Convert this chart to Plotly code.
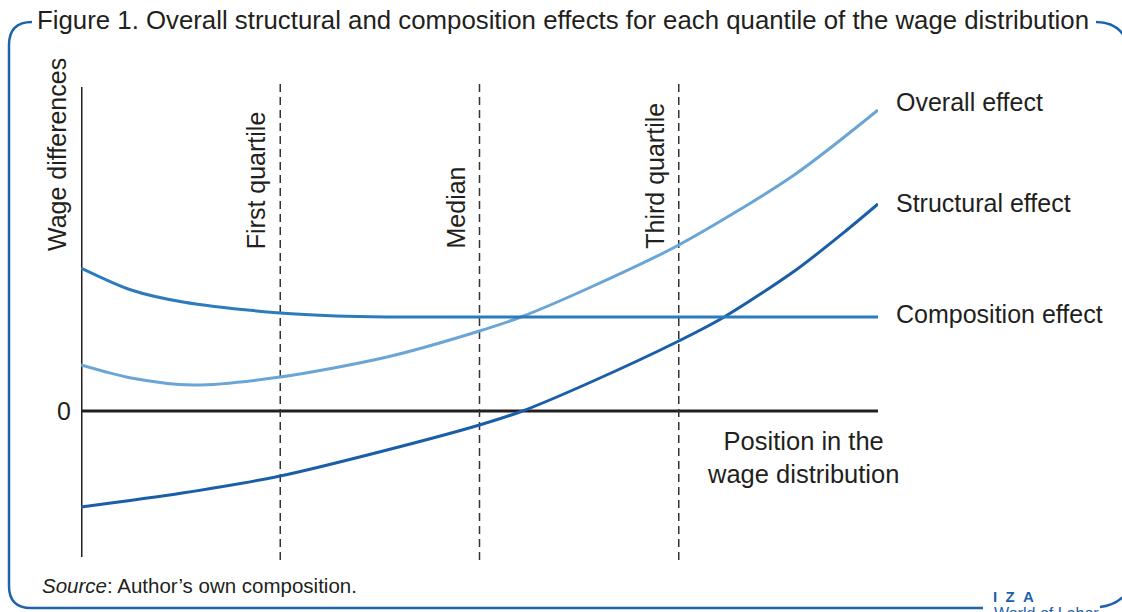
import plotly.graph_objects as go

W, H = 1122, 612

# Data (position in the wage distribution 0..1, wage difference in arbitrary units)
overall_x = [0.0, 0.063, 0.14, 0.25, 0.384, 0.5, 0.552, 0.64, 0.75, 0.893, 1.0]
overall_y = [0.46, 0.33, 0.26, 0.34, 0.54, 0.80, 0.94, 1.24, 1.66, 2.35, 3.01]

structural_x = [0.0, 0.127, 0.25, 0.384, 0.5, 0.554, 0.64, 0.75, 0.807, 0.897, 0.961, 1.0]
structural_y = [-0.96, -0.82, -0.65, -0.39, -0.14, 0.0, 0.29, 0.70, 0.94, 1.41, 1.81, 2.07]

composition_x = [0.0, 0.063, 0.128, 0.25, 0.32, 0.384, 0.5, 0.75, 1.0]
composition_y = [1.43, 1.21, 1.09, 0.98, 0.95, 0.94, 0.94, 0.94, 0.94]

quartile_x = [0.25, 0.5, 0.75]
quartile_labels = ["First quartile", "Median", "Third quartile"]

series_names = ["Overall effect", "Structural effect", "Composition effect"]
series_colors = ["#6aa5d5", "#1a5ea8", "#2b7bbd"]
label_px_y = [102, 203, 314]

TXT = "#231f20"
FONT = "Liberation Sans"
FRAME = "#1c63ad"


def px(x):
    return x / W


def py(y):
    return 1 - y / H


fig = go.Figure()

# axis lines and quartile guides
fig.add_trace(go.Scatter(x=[0, 0], y=[-1.46, 3.24], mode="lines",
                         line=dict(color=TXT, width=3), hoverinfo="skip", showlegend=False))
fig.add_trace(go.Scatter(x=[0, 1.0], y=[0, 0], mode="lines",
                         line=dict(color=TXT, width=3), hoverinfo="skip", showlegend=False))
for qx in quartile_x:
    fig.add_trace(go.Scatter(x=[qx, qx], y=[-1.49, 3.29], mode="lines",
                             line=dict(color="#333333", width=1.5, dash="8px,5px"),
                             hoverinfo="skip", showlegend=False))

for name, xs, ys, col in zip(series_names,
                             [overall_x, structural_x, composition_x],
                             [overall_y, structural_y, composition_y],
                             series_colors):
    fig.add_trace(go.Scatter(x=xs, y=ys, mode="lines", name=name,
                             line=dict(color=col, width=3, shape="spline", smoothing=0.8),
                             showlegend=False))

annotations = []
# series labels at right
for name, ly in zip(series_names, label_px_y):
    annotations.append(dict(x=px(894), xref="paper", y=py(ly), yref="paper", text=name,
                            showarrow=False, xanchor="left", yanchor="middle",
                            font=dict(family=FONT, size=25, color=TXT)))
# quartile labels
for qx, lab in zip(quartile_x, quartile_labels):
    annotations.append(dict(x=qx, xref="x", y=py(251), yref="paper", text=lab, textangle=-90,
                            showarrow=False, xanchor="right", yanchor="bottom", xshift=-8,
                            font=dict(family=FONT, size=25, color=TXT)))

annotations += [
    dict(x=px(57), y=py(155), xref="paper", yref="paper", text="Wage differences", textangle=-90,
         showarrow=False, xanchor="center", yanchor="middle", font=dict(family=FONT, size=25, color=TXT)),
    dict(x=px(73), y=0, xref="paper", yref="y", text="0", showarrow=False, xanchor="right",
         yanchor="middle", font=dict(family=FONT, size=25, color=TXT)),
    dict(x=px(803), y=py(457), xref="paper", yref="paper", text="Position in the<br>wage distribution",
         showarrow=False, xanchor="center", yanchor="middle", align="center",
         font=dict(family=FONT, size=25.5, color=TXT)),
    dict(x=px(35), y=py(20), xref="paper", yref="paper",
         text="Figure 1. Overall structural and composition effects for each quantile of the wage distribution",
         showarrow=False, xanchor="left", yanchor="middle", font=dict(family=FONT, size=25.8, color=TXT)),
    dict(x=px(40), y=py(585), xref="paper", yref="paper",
         text="<i>Source</i>: Author’s own composition.",
         showarrow=False, xanchor="left", yanchor="middle", font=dict(family=FONT, size=20.5, color=TXT)),
    dict(x=px(1014), y=py(596), xref="paper", yref="paper", text="<b>I&nbsp;&nbsp;Z&nbsp;&nbsp;A</b>",
         showarrow=False, xanchor="center", yanchor="middle", font=dict(family=FONT, size=15, color=FRAME)),
    dict(x=px(992), y=py(603), xref="paper", yref="paper", text="World of Labor",
         showarrow=False, xanchor="left", yanchor="top", font=dict(family=FONT, size=16, color=FRAME)),
]

left_frame = (f"M {px(32)} {py(22)} Q {px(9)} {py(22)} {px(9)} {py(45)} "
              f"L {px(9)} {py(586)} Q {px(9)} {py(608)} {px(31)} {py(608)} L {px(983)} {py(608)}")
right_top = f"M {px(1096)} {py(22)} Q {px(1120)} {py(22)} {px(1128)} {py(44)}"
right_bot = f"M {px(1100)} {py(607)} Q {px(1116)} {py(605)} {px(1126)} {py(594)}"

shapes = [dict(type="path", path=p, xref="paper", yref="paper",
               line=dict(color=FRAME, width=2.5)) for p in (left_frame, right_top, right_bot)]

ylo, yhi = -1.51, 3.31
fig.update_layout(
    width=W, height=H,
    margin=dict(l=0, r=0, t=0, b=0),
    paper_bgcolor="white", plot_bgcolor="white",
    xaxis=dict(domain=[px(81), px(878)], range=[0, 1], visible=False),
    yaxis=dict(domain=[py(562), py(80)], range=[ylo, yhi], visible=False),
    annotations=annotations,
    shapes=shapes,
    showlegend=False,
)

fig.write_html("out.html", config={"displayModeBar": False},
               post_script="document.body.style.margin='0';document.body.style.overflow='hidden';")
